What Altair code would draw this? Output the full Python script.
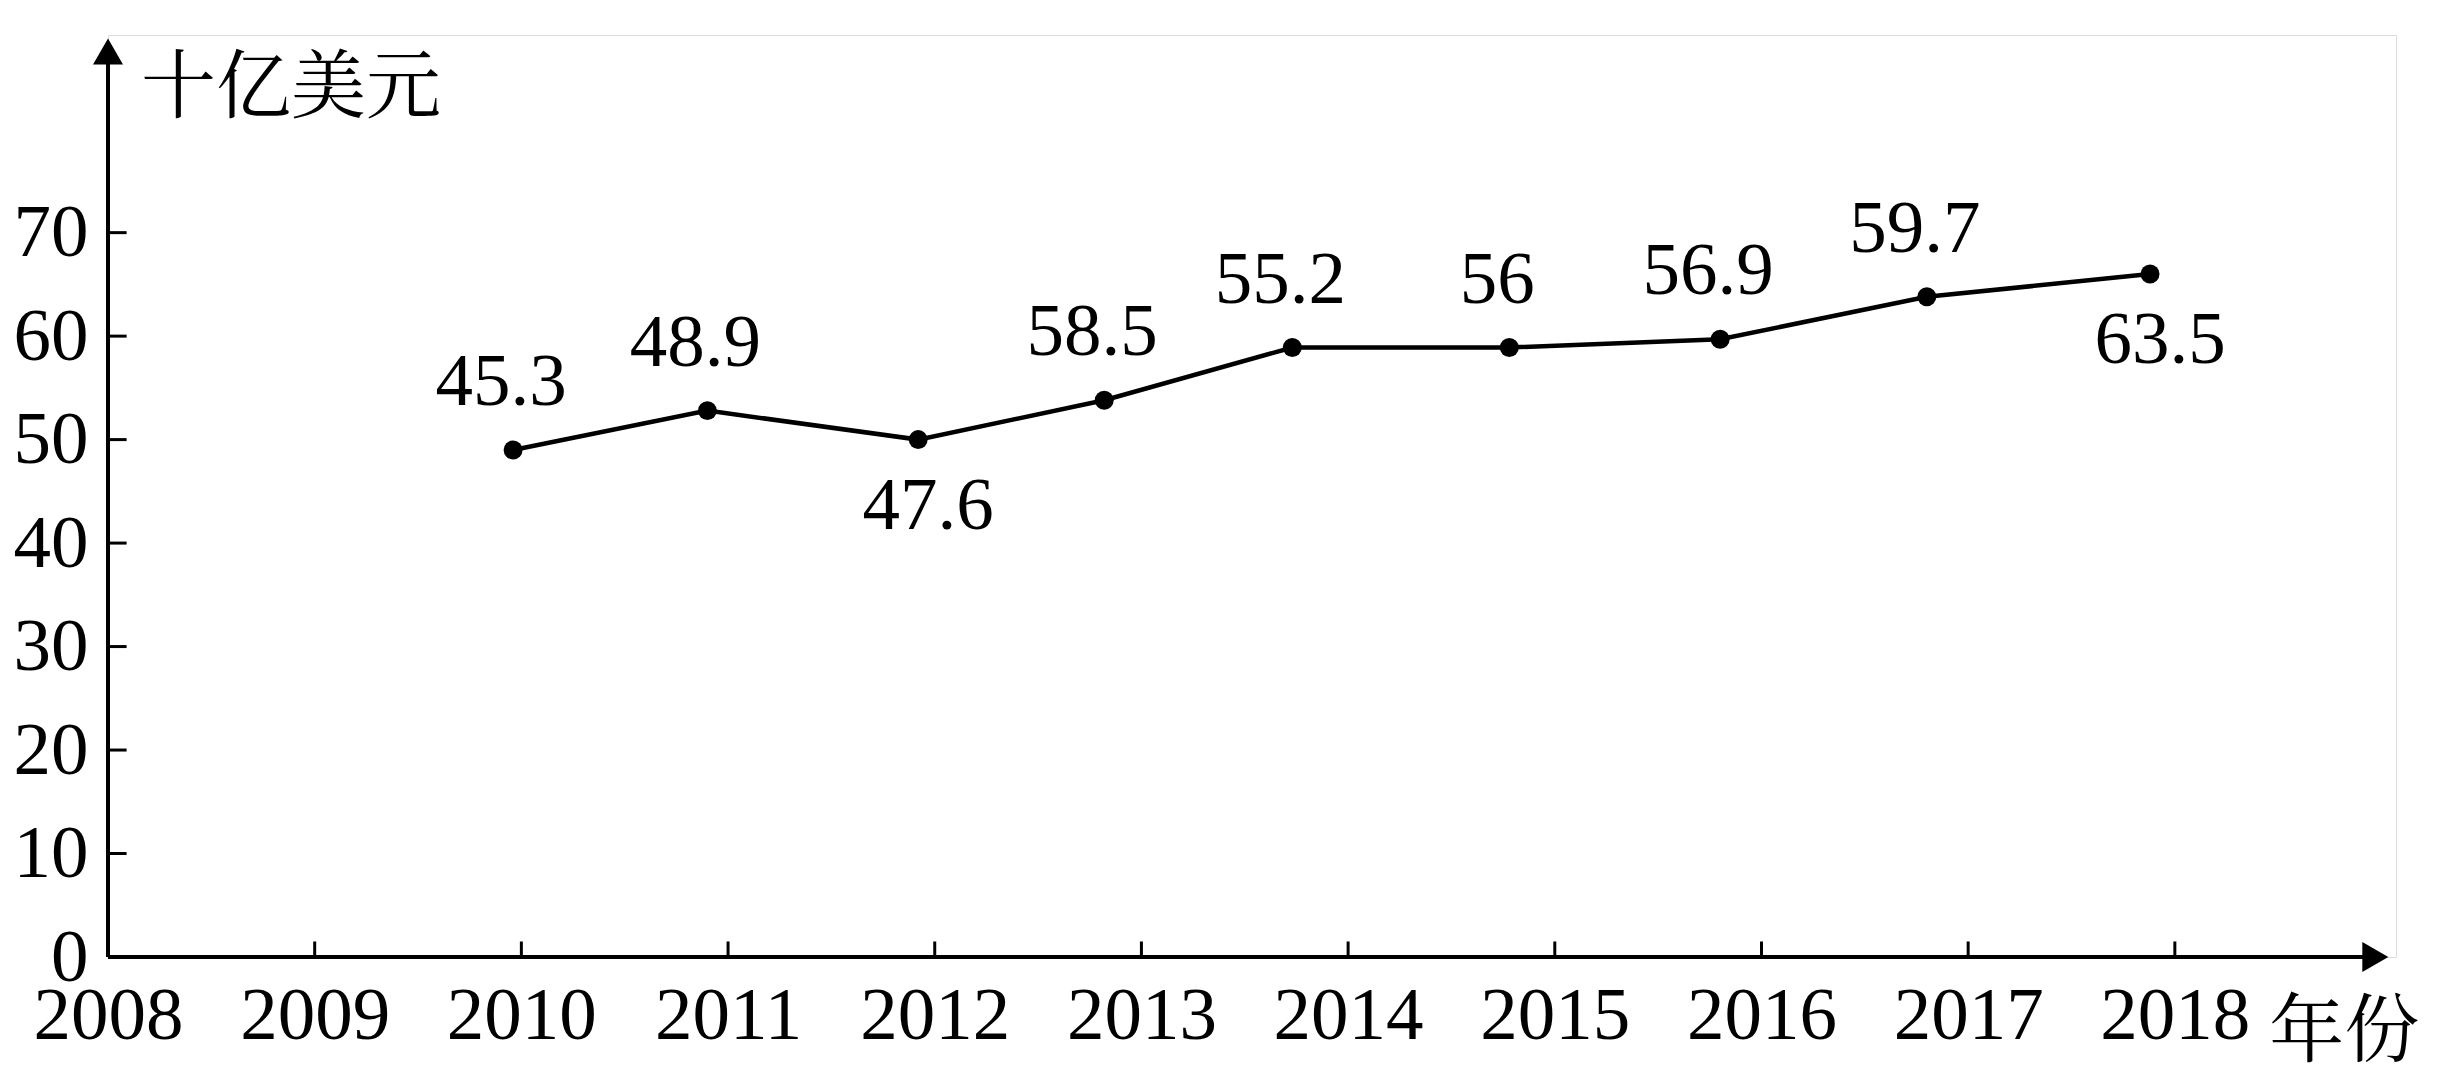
import altair as alt
import pandas as pd

# values as printed, and where the points sit in the picture
labels = ["45.3", "48.9", "47.6", "58.5", "55.2", "56", "56.9", "59.7", "63.5"]
pos_x = [2009.96, 2010.9, 2011.92, 2012.82, 2013.73, 2014.78, 2015.8, 2016.8, 2017.88]
pos_y = [49.0, 52.8, 50.0, 53.8, 58.9, 58.9, 59.7, 63.8, 66.0]
below = [False, False, True, False, False, False, False, False, True]

x_ticks = list(range(2008, 2019))
y_ticks = [0, 10, 20, 30, 40, 50, 60, 70]

XMAX, YMAX = 2019.07, 89.1
FONT = "Liberation Serif, Noto Serif CJK SC, Noto Sans CJK SC"
FS = 75

df = pd.DataFrame({"x": pos_x, "y": pos_y, "label": labels, "below": below})

xs = alt.Scale(domain=[2008, XMAX], nice=False, zero=False)
ys = alt.Scale(domain=[0, YMAX], nice=False)

xaxis = alt.Axis(values=x_ticks, format="d", domain=False, ticks=False, grid=False,
                 labelFont=FONT, labelFontSize=FS, labelColor="black", labelPadding=22,
                 title=None, labelFlush=False)
yaxis = alt.Axis(values=y_ticks, domain=False, ticks=False, grid=False,
                 labelFont=FONT, labelFontSize=FS, labelColor="black", labelPadding=20,
                 title=None)

base = alt.Chart(df)

axes_df = pd.DataFrame({"x": [2008], "x2": [XMAX - 0.06], "y": [0], "y2": [YMAX - 1.5]})
xline = alt.Chart(axes_df).mark_rule(color="black", strokeWidth=4).encode(
    x=alt.X("x:Q", scale=xs, axis=xaxis), x2="x2:Q",
    y=alt.Y("y:Q", scale=ys, axis=yaxis))
yline = alt.Chart(axes_df).mark_rule(color="black", strokeWidth=4).encode(
    x=alt.X("x:Q", scale=xs), y=alt.Y("y:Q", scale=ys), y2="y2:Q")

xt = pd.DataFrame({"x": x_ticks[1:], "y": 0, "y2": 1.5})
xtick = alt.Chart(xt).mark_rule(color="black", strokeWidth=3).encode(
    x=alt.X("x:Q", scale=xs), y=alt.Y("y:Q", scale=ys), y2="y2:Q")
yt = pd.DataFrame({"y": y_ticks[1:], "x": 2008, "x2": 2008.09})
ytick = alt.Chart(yt).mark_rule(color="black", strokeWidth=3).encode(
    x=alt.X("x:Q", scale=xs), x2="x2:Q", y=alt.Y("y:Q", scale=ys))

arr_r = alt.Chart(pd.DataFrame({"x": [XMAX - 0.1], "y": [0]})).mark_point(
    shape="triangle-right", filled=True, color="black", size=900, opacity=1).encode(
    x=alt.X("x:Q", scale=xs), y=alt.Y("y:Q", scale=ys))
arr_u = alt.Chart(pd.DataFrame({"x": [2008], "y": [YMAX - 1.6]})).mark_point(
    shape="triangle-up", filled=True, color="black", size=900, opacity=1).encode(
    x=alt.X("x:Q", scale=xs), y=alt.Y("y:Q", scale=ys))

line = base.mark_line(color="black", strokeWidth=4.5).encode(
    x=alt.X("x:Q", scale=xs), y=alt.Y("y:Q", scale=ys))
pts = base.mark_circle(color="black", size=360, opacity=1).encode(
    x=alt.X("x:Q", scale=xs), y=alt.Y("y:Q", scale=ys))

txt_up = base.transform_filter("!datum.below").mark_text(
    font=FONT, fontSize=FS, color="black", dy=-68, dx=-12).encode(
    x=alt.X("x:Q", scale=xs), y=alt.Y("y:Q", scale=ys), text="label:N")
txt_dn = base.transform_filter("datum.below").mark_text(
    font=FONT, fontSize=FS, color="black", dy=66, dx=10).encode(
    x=alt.X("x:Q", scale=xs), y=alt.Y("y:Q", scale=ys), text="label:N")

titles = pd.DataFrame({"x": [2008.16, XMAX - 0.25], "y": [YMAX - 5.2, -7.3],
                       "t": ["十亿美元", "年份"]})
t_left = alt.Chart(titles.iloc[[0]]).mark_text(
    font=FONT, fontSize=FS, color="black", align="left").encode(
    x=alt.X("x:Q", scale=xs), y=alt.Y("y:Q", scale=ys), text="t:N")
t_right = alt.Chart(titles.iloc[[1]]).mark_text(
    font=FONT, fontSize=FS, color="black", align="center").encode(
    x=alt.X("x:Q", scale=xs), y=alt.Y("y:Q", scale=ys), text="t:N")

chart = alt.layer(xline, yline, xtick, ytick, arr_r, arr_u, line, pts,
                  txt_up, txt_dn, t_left, t_right).properties(
    width=2288, height=922,
    autosize=alt.AutoSizeParams(type="none"),
    padding={"left": 100, "top": 27, "right": 60, "bottom": 110},
).configure_view(stroke=None, strokeWidth=0).configure(background="white")

chart.save("out.html", embed_options={"renderer": "svg", "actions": False})
